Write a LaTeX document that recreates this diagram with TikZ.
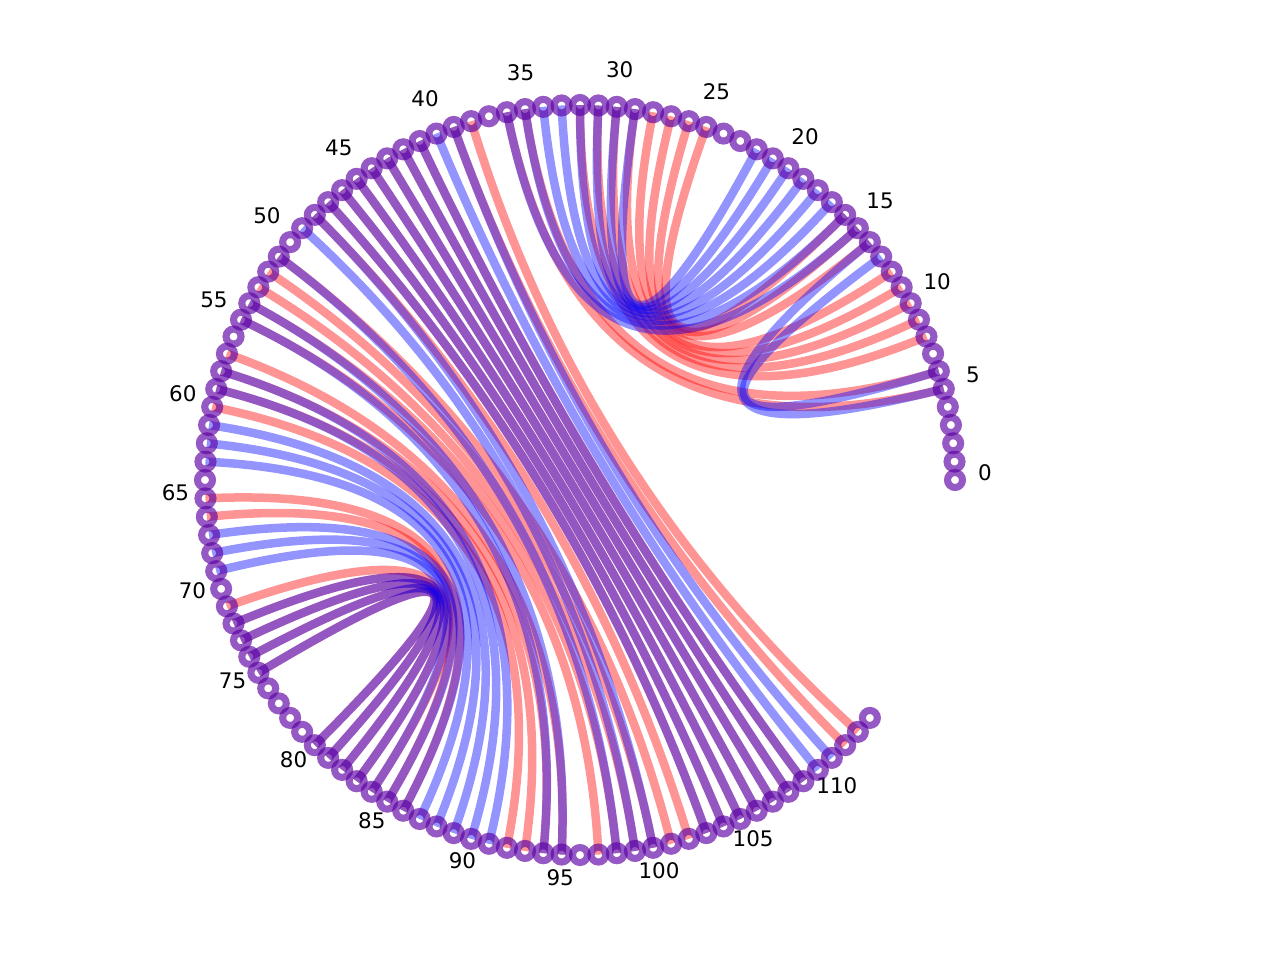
\documentclass[tikz,border=0pt]{standalone}
\usepackage{fontspec}
\setmainfont{DejaVu Sans}
\usepackage{tikz}
\usetikzlibrary{calc}
\definecolor{pairred}{rgb}{1,0,0}
\definecolor{pairblue}{rgb}{0,0,1}

\begin{document}
\begin{tikzpicture}[
  redarc/.style={draw=pairred, opacity=0.42, line width=0.85mm},
  bluearc/.style={draw=pairblue, opacity=0.42, line width=0.85mm},
  redring/.style={draw=pairred, opacity=0.4, line width=0.7mm},
  bluering/.style={draw=pairblue, opacity=0.42, line width=0.7mm},
  idxlabel/.style={font=\fontsize{6.1}{7.3}\selectfont, text=black, yshift=0.7mm}]
  \useasboundingbox (-5.8,-4.8) rectangle (7.0,4.8);
  % bases on the circle
  \coordinate (ctr) at (0,0);
  \foreach \i in {0,...,114}
    \coordinate (p\i) at (\i*2.8125:3.75);
  % index labels
  \foreach \k in {0,5,...,110}
    \node[idxlabel] (l\k) at (\k*2.8125:4.05) {\k};
  % red structure
  \foreach \a/\b in {5/36,6/35,8/32,9/31,10/30,11/29,12/28,14/27,15/26,16/25,
      38/113,39/112,41/109,42/108,43/107,44/106,45/105,46/104,47/103,48/102,
      51/101,52/100,53/99,54/98,55/97,57/95,58/94,59/93,60/92,65/86,66/85,
      71/84,72/83,73/82,74/81,75/80}
    \draw[redarc] (p\a) .. controls ($(p\a)!2/3!(ctr)$) and ($(p\b)!2/3!(ctr)$) .. (p\b);
  % blue structure
  \foreach \a/\b in {5/14,6/13,15/36,16/35,17/34,18/33,19/32,20/31,21/30,22/29,
      39/111,40/110,41/109,42/108,43/107,44/106,45/105,46/104,47/103,48/100,
      49/99,51/98,54/95,55/94,58/91,59/90,61/89,62/88,63/87,67/86,68/85,
      69/84,72/83,73/82,74/81,75/80}
    \draw[bluearc] (p\a) .. controls ($(p\a)!2/3!(ctr)$) and ($(p\b)!2/3!(ctr)$) .. (p\b);
  % rings
  \foreach \i in {0,...,114}{
    \draw[redring] (p\i) circle (0.075);
    \draw[bluering] (p\i) circle (0.075);
  }
\end{tikzpicture}
\end{document}
